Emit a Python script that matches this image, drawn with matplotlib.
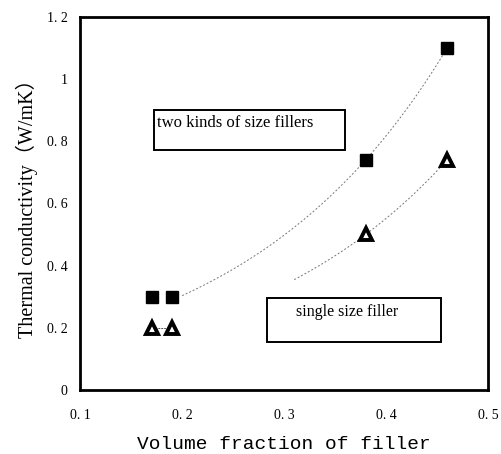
import numpy as np
import matplotlib
matplotlib.use("Agg")
import matplotlib.pyplot as plt

# values
volume_fraction = [0.17, 0.19, 0.38, 0.46]
two_size_fillers = [0.30, 0.30, 0.74, 1.10]
single_size_filler = [0.20, 0.20, 0.50, 0.74]

x_ticks = [0.1, 0.2, 0.3, 0.4, 0.5]
x_tick_labels = ["0. 1", "0. 2", "0. 3", "0. 4", "0. 5"]
y_ticks = [0, 0.2, 0.4, 0.6, 0.8, 1.0, 1.2]
y_tick_labels = ["0", "0. 2", "0. 4", "0. 6", "0. 8", "1", "1. 2"]

fig = plt.figure(figsize=(5.01, 4.54), dpi=100)
ax = fig.add_axes([0.16, 0.141, 0.814, 0.822])

# exponential trend lines (fitted to the points)
def exp_trend(x, y, lo, hi):
    b, ln_a = np.polyfit(x, np.log(y), 1)
    xs = np.linspace(lo, hi, 100)
    return xs, np.exp(ln_a) * np.exp(b * xs)

xs, ys = exp_trend(volume_fraction[2:], two_size_fillers[2:], 0.20, 0.46)
ax.plot(xs, ys, color="#777777", ls=(0, (2, 2)), lw=0.7)
xs, ys = exp_trend(volume_fraction[2:], single_size_filler[2:], 0.31, 0.46)
ax.plot(xs, ys, color="#777777", ls=(0, (2, 2)), lw=0.7)
ax.plot(volume_fraction[:2], single_size_filler[:2], color="#555555",
        ls=(0, (2, 1)), lw=0.7)

ax.plot(volume_fraction, two_size_fillers, ls="none", marker="s",
        ms=8.5, color="black")
ax.plot(volume_fraction, single_size_filler, ls="none", marker="^",
        ms=8.5, mfc="white", mec="black", mew=2.8)

# text boxes
ax.add_patch(plt.Rectangle((0.172, 0.772), 0.188, 0.128, fill=False,
                           ec="black", lw=1.4))
ax.text(0.175, 0.858, "two kinds of size fillers", fontsize=12,
        family="Liberation Serif", va="center")
ax.add_patch(plt.Rectangle((0.283, 0.154), 0.171, 0.142, fill=False,
                           ec="black", lw=1.4))
ax.text(0.362, 0.251, "single size filler", fontsize=11.5,
        family="Liberation Serif", va="center", ha="center")

ax.set_xlim(0.1, 0.5)
ax.set_ylim(0, 1.2)
ax.set_xticks(x_ticks)
ax.set_xticklabels(x_tick_labels, family="Liberation Serif", fontsize=10)
ax.set_yticks(y_ticks)
ax.set_yticklabels(y_tick_labels, family="Liberation Serif", fontsize=10)
ax.tick_params(axis="x", length=0, pad=14)
ax.tick_params(axis="y", length=0, pad=9)
for s in ax.spines.values():
    s.set_linewidth(2)

ax.set_xlabel("Volume fraction of filler", family="Liberation Mono",
              fontsize=14, labelpad=10)
ax.set_ylabel("Thermal conductivity\uff08W/mK\uff09",
              family=["Liberation Serif", "Noto Sans CJK JP"], fontsize=14.5,
              labelpad=6)

fig.savefig("out.png", dpi=100)
